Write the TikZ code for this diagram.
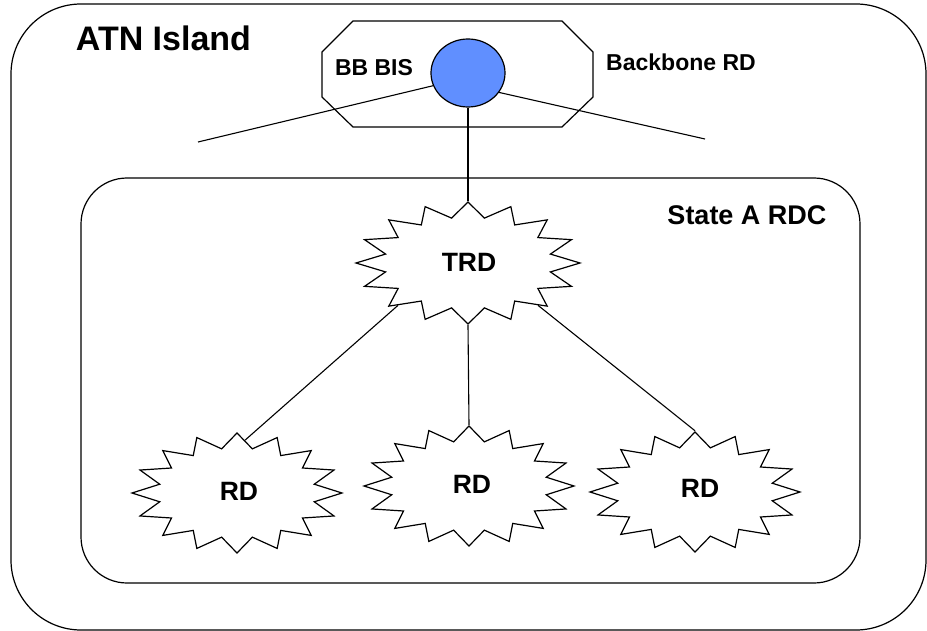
\documentclass[tikz,border=0pt]{standalone}
\usepackage{fontspec}
\setmainfont{Liberation Sans}
\usetikzlibrary{shapes.geometric}
\definecolor{bisblue}{RGB}{96,143,255}
\begin{document}
\begin{tikzpicture}[x=1pt,y=-1pt, line width=1.2pt,
  lbl/.style={font=\bfseries\fontsize{#1}{#1}\selectfont, inner sep=0pt, anchor=base},
  burst/.style={star, star points=16, star point ratio=1.3333, draw, fill=white, inner sep=0pt},
  link/.style={draw, line width=1.1pt}]
\useasboundingbox (0,0) rectangle (927,631);
% containers
\draw[rounded corners=70] (11,4) rectangle (926,630);
\draw[rounded corners=46] (81,178) rectangle (860,583);
% backbone RD octagon
\draw (353,21) -- (562,21) -- (593,52) -- (593,97) -- (562,127) -- (353,127) -- (322,97) -- (322,52) -- cycle;
% BB BIS
\coordinate (wl) at (198,142);
\coordinate (wr) at (705,139);
\node[ellipse, draw, fill=bisblue, minimum width=74, minimum height=68, inner sep=0pt] (bis) at (468,73) {};
\draw[link] (bis.200) -- (wl);
\draw[link] (bis.-32) -- (wr);
% stars
\node[burst, minimum size=122, xscale=1.836] (trd) at (468,263) {};
\node[burst, minimum size=120, xscale=1.75] (rdl) at (237,493) {};
\node[burst, minimum size=120, xscale=1.75] (rdm) at (469,486) {};
\node[burst, minimum size=120, xscale=1.75] (rdr) at (695,492) {};
% connectors
\draw[link] (bis.south) -- (trd.north);
\draw[link] (trd.228) -- (rdl.85);
\draw[link] (trd.south) -- (rdm.north);
\draw[link] (trd.-48) -- (rdr.north);
% labels
\node[lbl=34] (atn) at (163.5,51) {ATN Island};
\node[lbl=23] (bbbis) at (374,76) {BB BIS};
\node[lbl=23] (bbrd) at (681,71) {Backbone RD};
\node[lbl=27] (rdc) at (747,225) {State A RDC};
\node[lbl=26.5] (trdt) at (469,272) {TRD};
\node[lbl=26.5] (rdlt) at (239,500) {RD};
\node[lbl=26.5] (rdmt) at (472,493) {RD};
\node[lbl=26.5] (rdrt) at (700,497) {RD};
\end{tikzpicture}
\end{document}
